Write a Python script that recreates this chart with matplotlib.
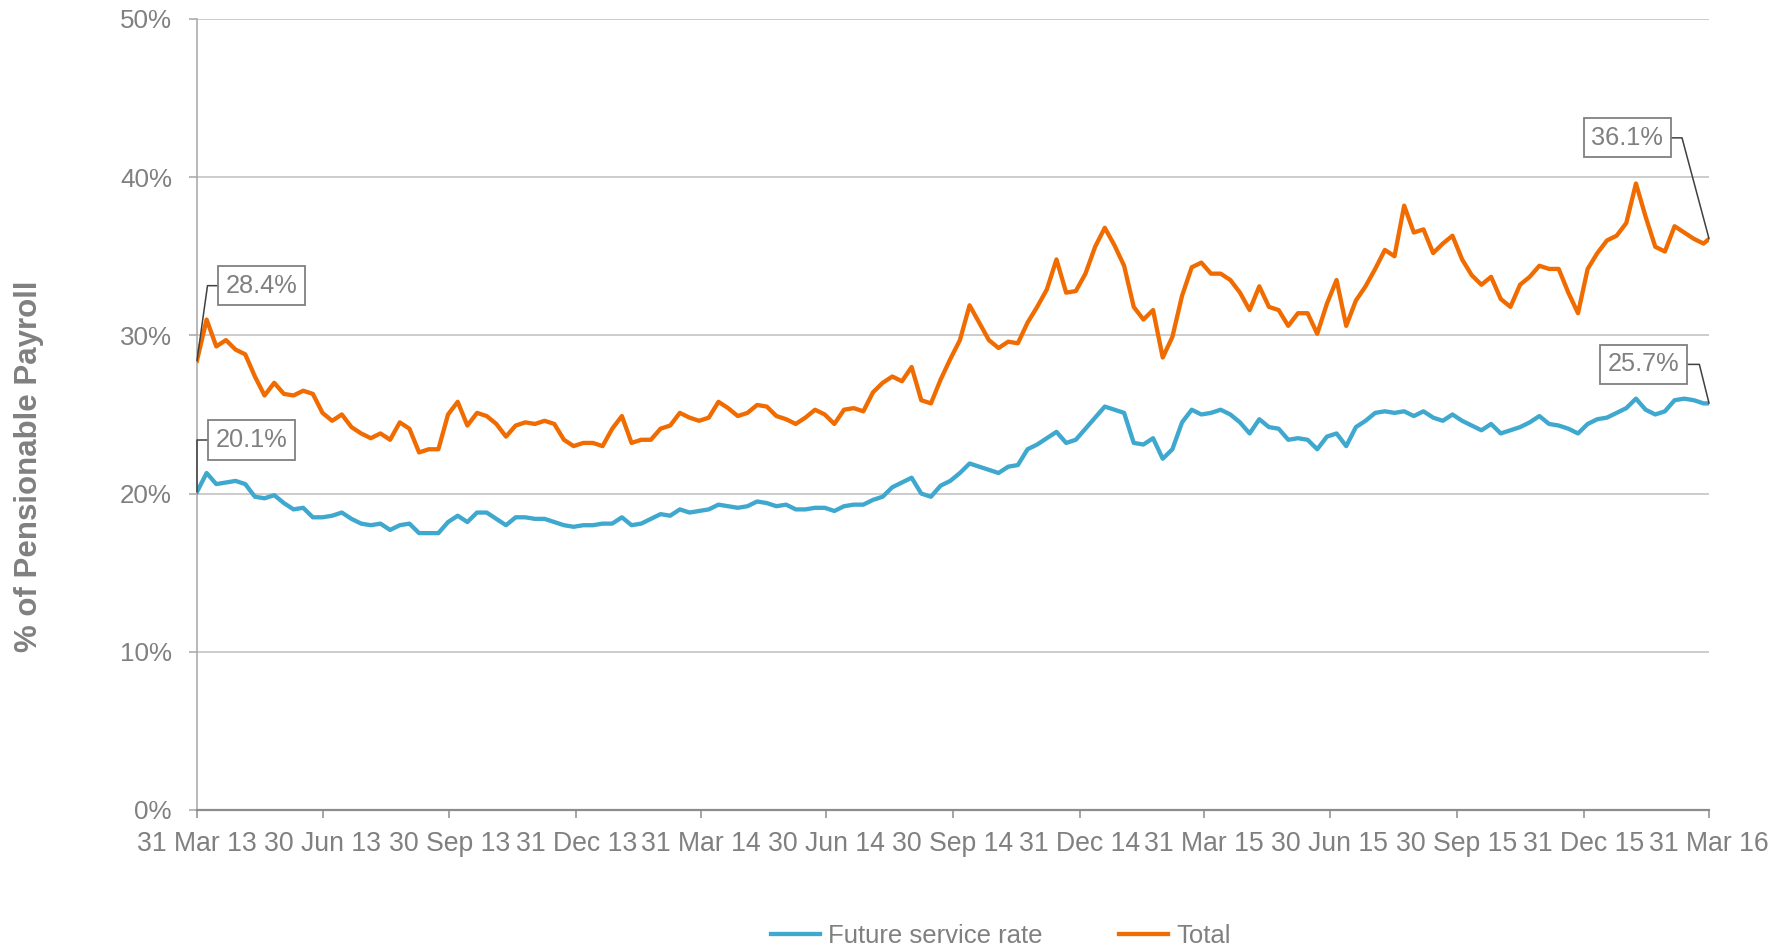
import numpy as np
import pandas as pd
import matplotlib
matplotlib.use("Agg")
import matplotlib.pyplot as plt

# weekly readings from 31 Mar 13, last point is 31 Mar 16
total = [
    28.4, 31.0, 29.3, 29.7, 29.1, 28.8, 27.4, 26.2, 27.0, 26.3,
    26.2, 26.5, 26.3, 25.1, 24.6, 25.0, 24.2, 23.8, 23.5, 23.8,
    23.4, 24.5, 24.1, 22.6, 22.8, 22.8, 25.0, 25.8, 24.3, 25.1,
    24.9, 24.4, 23.6, 24.3, 24.5, 24.4, 24.6, 24.4, 23.4, 23.0,
    23.2, 23.2, 23.0, 24.1, 24.9, 23.2, 23.4, 23.4, 24.1, 24.3,
    25.1, 24.8, 24.6, 24.8, 25.8, 25.4, 24.9, 25.1, 25.6, 25.5,
    24.9, 24.7, 24.4, 24.8, 25.3, 25.0, 24.4, 25.3, 25.4, 25.2,
    26.4, 27.0, 27.4, 27.1, 28.0, 25.9, 25.7, 27.2, 28.5, 29.7,
    31.9, 30.8, 29.7, 29.2, 29.6, 29.5, 30.8, 31.8, 32.9, 34.8,
    32.7, 32.8, 33.9, 35.6, 36.8, 35.7, 34.4, 31.8, 31.0, 31.6,
    28.6, 29.9, 32.5, 34.3, 34.6, 33.9, 33.9, 33.5, 32.7, 31.6,
    33.1, 31.8, 31.6, 30.6, 31.4, 31.4, 30.1, 32.0, 33.5, 30.6,
    32.2, 33.1, 34.2, 35.4, 35.0, 38.2, 36.5, 36.7, 35.2, 35.8,
    36.3, 34.8, 33.8, 33.2, 33.7, 32.3, 31.8, 33.2, 33.7, 34.4,
    34.2, 34.2, 32.7, 31.4, 34.2, 35.2, 36.0, 36.3, 37.1, 39.6,
    37.5, 35.6, 35.3, 36.9, 36.5, 36.1, 35.8, 36.1,
]

future_service = [
    20.1, 21.3, 20.6, 20.7, 20.8, 20.6, 19.8, 19.7, 19.9, 19.4,
    19.0, 19.1, 18.5, 18.5, 18.6, 18.8, 18.4, 18.1, 18.0, 18.1,
    17.7, 18.0, 18.1, 17.5, 17.5, 17.5, 18.2, 18.6, 18.2, 18.8,
    18.8, 18.4, 18.0, 18.5, 18.5, 18.4, 18.4, 18.2, 18.0, 17.9,
    18.0, 18.0, 18.1, 18.1, 18.5, 18.0, 18.1, 18.4, 18.7, 18.6,
    19.0, 18.8, 18.9, 19.0, 19.3, 19.2, 19.1, 19.2, 19.5, 19.4,
    19.2, 19.3, 19.0, 19.0, 19.1, 19.1, 18.9, 19.2, 19.3, 19.3,
    19.6, 19.8, 20.4, 20.7, 21.0, 20.0, 19.8, 20.5, 20.8, 21.3,
    21.9, 21.7, 21.5, 21.3, 21.7, 21.8, 22.8, 23.1, 23.5, 23.9,
    23.2, 23.4, 24.1, 24.8, 25.5, 25.3, 25.1, 23.2, 23.1, 23.5,
    22.2, 22.8, 24.5, 25.3, 25.0, 25.1, 25.3, 25.0, 24.5, 23.8,
    24.7, 24.2, 24.1, 23.4, 23.5, 23.4, 22.8, 23.6, 23.8, 23.0,
    24.2, 24.6, 25.1, 25.2, 25.1, 25.2, 24.9, 25.2, 24.8, 24.6,
    25.0, 24.6, 24.3, 24.0, 24.4, 23.8, 24.0, 24.2, 24.5, 24.9,
    24.4, 24.3, 24.1, 23.8, 24.4, 24.7, 24.8, 25.1, 25.4, 26.0,
    25.3, 25.0, 25.2, 25.9, 26.0, 25.9, 25.7, 25.7,
]

tick_dates = ["2013-03-31", "2013-06-30", "2013-09-30", "2013-12-31",
              "2014-03-31", "2014-06-30", "2014-09-30", "2014-12-31",
              "2015-03-31", "2015-06-30", "2015-09-30", "2015-12-31",
              "2016-03-31"]
tick_labels = ["31 Mar 13", "30 Jun 13", "30 Sep 13", "31 Dec 13",
               "31 Mar 14", "30 Jun 14", "30 Sep 14", "31 Dec 14",
               "31 Mar 15", "30 Jun 15", "30 Sep 15", "31 Dec 15",
               "31 Mar 16"]

n = len(total)
dates = list(pd.date_range("2013-03-31", periods=n - 1, freq="7D")) + [pd.Timestamp("2016-03-31")]
dates = pd.to_datetime(dates)

BLUE = "#3FA8CE"
ORANGE = "#F06C00"
GREY = "#808080"

plt.rcParams["font.family"] = ["Liberation Sans", "DejaVu Sans"]

fig = plt.figure(figsize=(17.84, 9.48), dpi=100)
ax = fig.add_axes([0.1104, 0.1456, 0.958 - 0.1104, 0.98 - 0.1456])

ax.plot(dates, future_service[:n], color=BLUE, lw=3.1, label="Future service rate", zorder=3)
ax.plot(dates, total, color=ORANGE, lw=3.1, label="Total", zorder=3)

ax.set_xlim(dates[0], dates[-1])
ax.set_ylim(0, 50)
ax.set_yticks([0, 10, 20, 30, 40, 50])
ax.set_yticklabels(["0%", "10%", "20%", "30%", "40%", "50%"])
ax.set_xticks(pd.to_datetime(tick_dates))
ax.set_xticklabels(tick_labels)

ax.yaxis.grid(True, color="#BFBFBF", lw=1.1)
ax.set_axisbelow(True)
for s in ["top", "right"]:
    ax.spines[s].set_visible(False)
ax.spines["left"].set_color("#A6A6A6")
ax.spines["left"].set_linewidth(1.1)
ax.spines["bottom"].set_color("#8C8C8C")
ax.spines["bottom"].set_linewidth(1.6)
ax.tick_params(axis="x", colors="#8C8C8C", labelcolor=GREY, labelsize=19.2,
               length=6, width=1.1, pad=9)
ax.tick_params(axis="y", colors="#A6A6A6", labelcolor=GREY, labelsize=18.7,
               length=6, width=1.1, pad=12)

fig.text(0.016, 0.508, "% of Pensionable Payroll", rotation=90, ha="center", va="center",
         fontsize=22.5, fontweight="bold", color=GREY)

# end-point labels with elbow leader lines
box = dict(boxstyle="square,pad=0.3", fc="white", ec=GREY, lw=1.3)
notes = [
    (0, total, "28.4%", (65, 75), 82),
    (0, future_service, "20.1%", (55, 52), 90),
    (n - 1, total, "36.1%", (-82, 101), 105),
    (n - 1, future_service, "25.7%", (-66, 39), 104),
]
for i, series, txt, off, angb in notes:
    ax.annotate(txt, xy=(dates[i], series[i]), xytext=off, textcoords="offset pixels",
                ha="center", va="center", fontsize=18.3, color=GREY, bbox=box,
                arrowprops=dict(arrowstyle="-", color="#404040", lw=1.1,
                                shrinkA=0, shrinkB=0,
                                connectionstyle=f"angle,angleA=0,angleB={angb},rad=0"),
                annotation_clip=False, zorder=5)

fig.legend(loc="center", bbox_to_anchor=(0.561, 0.013), ncol=2, frameon=False,
           fontsize=18.5, labelcolor=GREY, handlelength=1.9, handletextpad=0.3,
           columnspacing=3.0)

fig.savefig("out.png", dpi=100)
